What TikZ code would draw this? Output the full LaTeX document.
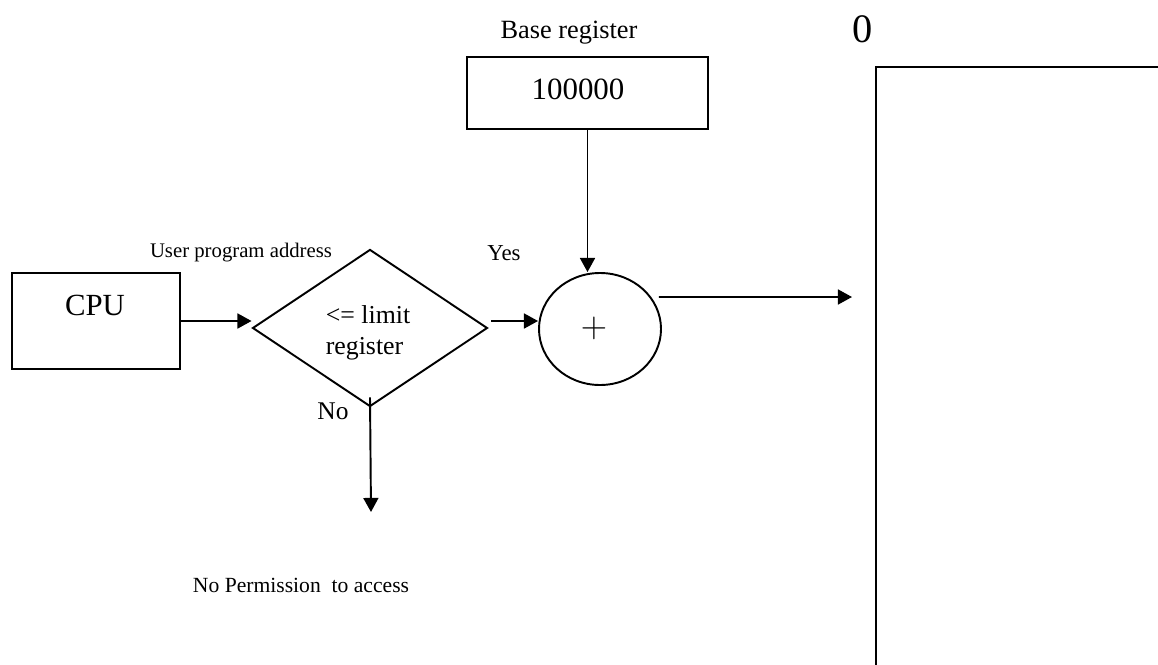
\documentclass[tikz,border=0pt]{standalone}
\usepackage{fontspec}
\setmainfont{Liberation Serif}
\usetikzlibrary{arrows.meta,positioning,shapes.geometric}
\newcommand{\fs}[1]{\fontsize{#1}{1.2\dimexpr#1\relax}\selectfont}
\tikzset{
  box/.style={draw,line width=1.1pt,rectangle,inner sep=0pt},
  decide/.style={draw,line width=1.1pt,diamond,inner sep=0pt,
    minimum width=4.70cm,minimum height=3.14cm},
  adder/.style={draw,line width=1.1pt,ellipse,inner sep=0pt,
    minimum width=2.44cm,minimum height=2.24cm},
  arr/.style={line width=1.1pt,-{Triangle[length=8pt,width=8.5pt]}},
  lbl/.style={inner sep=0pt}
}
\begin{document}
\begin{tikzpicture}
\useasboundingbox (0,0) rectangle (23.16,-13.28);
% boxes and decision
\node[box,minimum width=3.36cm,minimum height=1.92cm] (cpu) at (1.92,-6.42) {};
\node[lbl,font=\fs{17.5pt}] (cputxt) at (1.90,-6.10) {CPU};
\node[decide] (lim) at (7.40,-6.56) {};
\node[lbl,align=left,font=\fs{14.7pt}] (limtxt) at (7.36,-6.66) {\textless= limit\\register};
\node[adder] (add) at (12.00,-6.58) {};
\node[lbl,font=\fs{21pt}] (plus) at (11.88,-6.56) {$+$};
\node[box,minimum width=4.82cm,minimum height=1.44cm] (base) at (11.75,-1.86) {};
\node[lbl,font=\fs{17.6pt}] (basetxt) at (11.56,-1.78) {100000};
% labels
\node[lbl,font=\fs{11.8pt}] (upa) at (4.82,-5.06) {User program address};
\node[lbl,font=\fs{15pt}] (basettl) at (11.38,-0.66) {Base register};
\node[lbl,font=\fs{13pt}] (yes) at (10.08,-5.06) {Yes};
\node[lbl,font=\fs{14.5pt}] (no) at (6.66,-8.22) {No};
\node[lbl,font=\fs{12.3pt}] (nope) at (6.02,-11.70) {No Permission\ \ to access};
\node[lbl,font=\fs{23pt}] (zero) at (17.26,-0.58) {0};
% memory
\draw[line width=1.1pt] (17.52,-14) |- (24,-1.34);
\coordinate (memin) at (17.04,-5.94);
\coordinate (deny) at (7.42,-10.24);
% connectors
\draw[arr] (cpu.east) -- (cpu.east -| lim.west);
\draw[arr] ([xshift=0.6mm,yshift=1.4mm]lim.east) -- ([yshift=1.4mm]lim.east -| add.west);
\draw[arr] (base.south) -- (base.south |- add.north);
\draw[arr] ([xshift=-0.6mm,yshift=6.4mm]add.east) -- (memin);
\draw[arr] ([yshift=2mm]lim.south) -- (deny);
\end{tikzpicture}
\end{document}
